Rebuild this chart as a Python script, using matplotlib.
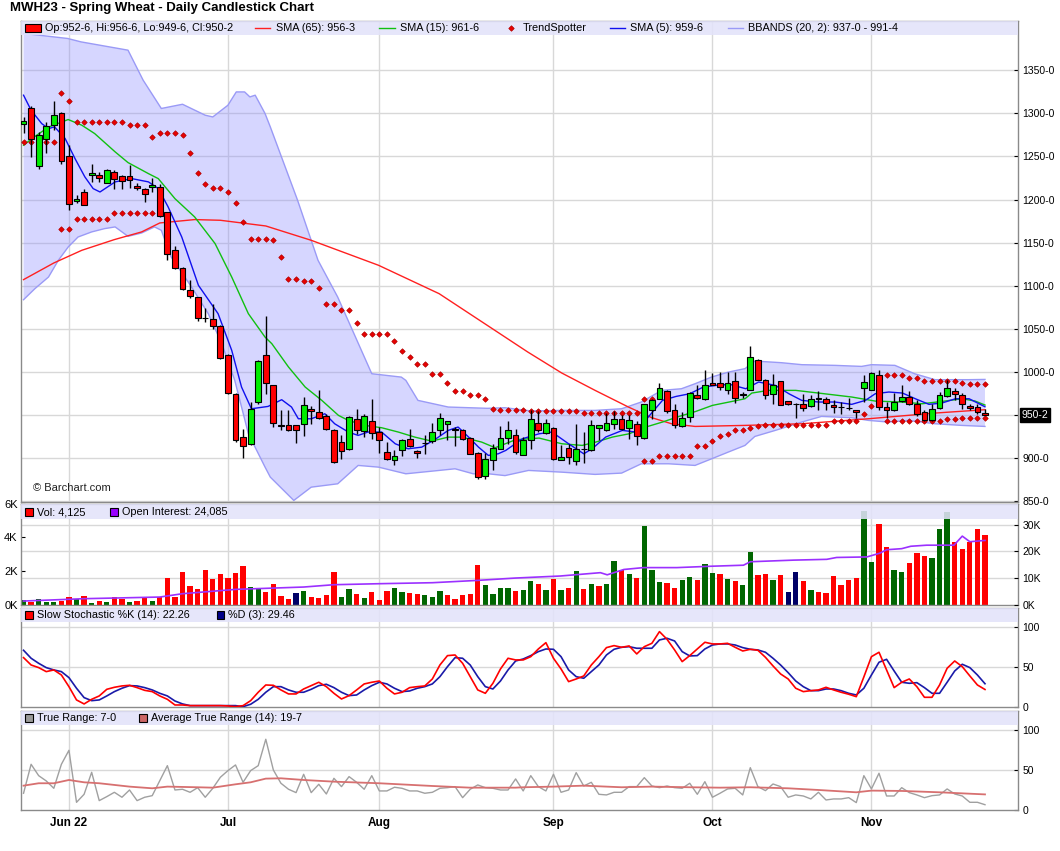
import numpy as np
import pandas as pd
import matplotlib
matplotlib.use("Agg")
import matplotlib.pyplot as plt
from matplotlib.patches import Rectangle
from matplotlib.lines import Line2D
from matplotlib.transforms import blended_transform_factory

plt.rcParams["font.family"] = ["Liberation Sans", "DejaVu Sans"]

W, H = 1060, 851

# trading calendar May 23 - Nov 22 2022
holidays = pd.to_datetime(["2022-05-30", "2022-06-20", "2022-07-04", "2022-09-05"])
days = pd.bdate_range("2022-05-23", "2022-11-22")
days = days[~days.isin(holidays)]

opens = [1288.1, 1306.7, 1239.4, 1270.7, 1287.0, 1300.9, 1251.0, 1198.0, 1209.2, 1228.2,
         1228.6, 1219.7, 1232.0, 1227.8, 1227.8, 1216.2, 1212.7, 1214.3, 1214.7, 1185.7,
         1142.0, 1121.0, 1095.6, 1087.0, 1063.2, 1061.9, 1053.8, 1020.1, 975.0, 925.0,
         916.1, 964.8, 1020.2, 985.4, 938.6, 938.6, 938.6, 939.4, 957.5, 953.6,
         949.0, 933.2, 918.9, 911.1, 945.9, 931.2, 943.2, 930.5, 907.3, 898.4,
         910.0, 922.7, 908.4, 917.5, 919.6, 933.2, 940.1, 933.3, 933.2, 923.9,
         906.5, 879.0, 897.6, 911.1, 923.9, 927.4, 904.2, 921.6, 941.3, 929.7,
         935.5, 898.4, 912.3, 896.8, 910.5, 909.2, 935.5, 933.2, 940.1, 945.9,
         935.5, 940.1, 923.5, 955.6, 969.1, 978.0, 956.4, 937.4, 947.9, 973.8,
         969.1, 987.7, 986.9, 979.6, 989.6, 973.0, 979.6, 1014.4, 990.4, 974.9,
         989.6, 966.0, 962.8, 963.3, 960.2, 968.9, 968.4, 962.2, 959.6, 958.4,
         955.6, 981.9, 979.6, 997.0, 959.5, 955.6, 966.0, 971.1, 963.3, 954.0,
         944.8, 958.7, 971.8, 977.6, 973.8, 961.0, 959.5, 952.75]
highs = [1295.5, 1309.0, 1278.5, 1290.0, 1314.0, 1301.5, 1263.0, 1205.8, 1212.7, 1241.7,
         1232.4, 1236.0, 1234.0, 1229.0, 1239.8, 1219.7, 1213.9, 1225.5, 1217.8, 1186.0,
         1145.8, 1121.5, 1107.2, 1087.5, 1074.7, 1078.5, 1054.2, 1021.3, 975.4, 934.3,
         964.8, 1014.0, 1065.0, 985.6, 955.6, 956.4, 939.0, 971.1, 960.2, 978.8,
         951.7, 933.5, 926.6, 948.6, 957.5, 951.7, 968.3, 936.3, 918.9, 909.2,
         922.7, 934.3, 910.0, 927.4, 941.3, 952.9, 943.5, 936.3, 934.3, 924.6,
         906.8, 906.1, 916.9, 937.0, 943.2, 934.3, 924.7, 955.6, 954.8, 945.9,
         936.3, 915.0, 916.9, 940.1, 930.5, 944.8, 938.5, 952.5, 954.8, 949.8,
         949.8, 943.2, 963.0, 969.1, 987.3, 979.6, 963.3, 953.7, 976.9, 984.6,
         1002.8, 998.9, 1000.0, 1000.0, 1000.0, 977.0, 1029.8, 1014.8, 992.3, 997.4,
         990.0, 966.5, 964.1, 974.2, 973.0, 978.0, 971.1, 967.2, 965.3, 970.3,
         955.8, 996.2, 1000.0, 1002.8, 965.3, 975.7, 984.6, 978.0, 967.2, 955.6,
         962.6, 976.9, 990.4, 981.9, 975.7, 963.3, 962.6, 956.75]
lows = [1276.9, 1249.5, 1236.0, 1254.0, 1280.4, 1241.7, 1188.4, 1196.0, 1193.8, 1220.5,
        1220.5, 1219.5, 1212.7, 1212.7, 1213.5, 1210.8, 1197.3, 1208.8, 1179.9, 1129.6,
        1120.0, 1095.6, 1086.3, 1059.2, 1058.0, 1050.3, 1015.5, 974.9, 918.8, 900.3,
        915.8, 963.0, 974.1, 936.3, 932.4, 931.6, 917.7, 925.4, 940.1, 945.9,
        932.4, 894.9, 899.5, 910.0, 928.5, 924.6, 922.7, 906.1, 897.6, 891.8,
        902.6, 913.0, 900.7, 904.6, 918.1, 926.6, 920.8, 914.2, 920.8, 904.6,
        875.5, 876.3, 886.8, 910.5, 916.9, 904.6, 903.4, 911.1, 930.0, 928.5,
        897.6, 898.0, 893.0, 891.8, 894.5, 908.4, 920.8, 932.0, 934.3, 932.4,
        922.7, 915.0, 922.7, 945.9, 968.8, 952.5, 935.5, 936.0, 942.1, 969.0,
        968.0, 984.6, 978.8, 974.2, 964.1, 970.0, 978.8, 990.4, 969.1, 962.6,
        961.4, 962.0, 947.1, 954.8, 959.4, 955.6, 955.6, 952.5, 951.7, 955.6,
        947.1, 965.3, 978.8, 955.6, 947.1, 954.8, 965.3, 961.4, 948.6, 943.2,
        943.2, 957.5, 971.0, 967.2, 957.5, 955.6, 951.7, 949.75]
closes = [1291.2, 1270.7, 1275.4, 1285.8, 1298.6, 1244.4, 1195.3, 1200.3, 1194.2, 1230.9,
          1225.5, 1234.8, 1223.6, 1222.0, 1223.2, 1213.9, 1206.9, 1217.4, 1181.0, 1136.5,
          1121.0, 1096.7, 1087.8, 1063.0, 1062.5, 1053.4, 1016.7, 975.7, 920.8, 914.6,
          957.1, 1012.8, 987.7, 941.3, 937.8, 933.2, 933.2, 961.8, 954.4, 947.1,
          934.3, 896.0, 908.0, 947.9, 932.4, 949.0, 929.7, 921.6, 899.5, 903.0,
          920.8, 913.8, 906.5, 917.9, 930.5, 947.1, 943.2, 933.0, 922.7, 905.3,
          878.2, 899.5, 912.3, 923.9, 932.4, 907.3, 921.6, 945.9, 933.2, 941.3,
          899.5, 901.8, 901.5, 911.1, 911.0, 939.0, 938.2, 941.3, 945.9, 934.3,
          944.8, 926.2, 962.6, 968.0, 981.9, 954.4, 938.2, 947.1, 976.1, 970.3,
          984.6, 985.4, 982.7, 987.7, 970.3, 974.9, 1017.5, 991.2, 973.8, 985.4,
          962.2, 962.6, 962.5, 958.7, 968.7, 969.1, 964.5, 959.8, 959.2, 958.0,
          953.3, 988.5, 999.3, 959.5, 955.6, 965.6, 971.1, 963.3, 951.0, 944.0,
          957.1, 973.8, 981.5, 974.2, 962.6, 958.7, 953.3, 950.25]

# moving averages / bands (bar index, value)
sma65_x = [0, 4, 7.7, 12, 15.6, 18, 22.6, 26, 32, 38, 46.9, 54.9, 61.6, 66.6, 71.1, 75.5,
           79.9, 83, 85.6, 88.7, 95.3, 102.8, 111.6, 120.4, 127]
sma65_y = [1107.2, 1126.5, 1141.2, 1153.6, 1162.5, 1172.9, 1176.8, 1176.0, 1169.4, 1152.8,
           1123.8, 1090.9, 1052.2, 1023.3, 998.9, 978.8, 959.5, 947.1, 940.1, 937.0,
           938.2, 940.1, 945.9, 952.5, 956.4]
sma15_x = [0, 1.1, 3.3, 5.9, 7.7, 9.4, 12.1, 13.8, 16.5, 17.8, 20, 22.6, 25.3, 27.5, 29.7,
           31.9, 32.8, 35, 37.2, 39.4, 41.6, 42.9, 45.1, 47.3, 49.5, 51.7, 53.9, 56.1, 57.9,
           60.5, 62.3, 65, 68.1, 71.1, 73.8, 75.6, 77.8, 80, 82.2, 84.4, 86.6, 88.8, 91,
           93.2, 95.3, 96.2, 98.4, 102, 105, 109.4, 112.5, 116, 118.7, 121.3, 124, 125.7, 127]
sma15_y = [1263.0, 1270.7, 1284.0, 1292.8, 1286.2, 1276.5, 1255.3, 1242.9, 1230.1, 1224.3,
           1201.1, 1179.9, 1149.0, 1110.2, 1067.7, 1040.6, 1032.9, 1005.9, 982.7, 967.2,
           949.8, 944.0, 938.2, 935.5, 930.5, 924.6, 920.0, 924.6, 924.6, 918.9, 912.3,
           921.6, 923.5, 916.9, 915.0, 918.9, 924.7, 928.5, 936.3, 942.1, 948.6, 954.4,
           961.4, 965.3, 969.1, 975.7, 978.8, 978.8, 975.7, 971.1, 966.4, 965.3, 963.3,
           966.0, 969.1, 966.4, 961.8]
sma5_x = [0, 1, 2.4, 3.3, 4.1, 5.5, 6.8, 8.1, 9.2, 10.1, 12.1, 14.3, 16.5, 17.8, 19.1, 20.9,
          23.1, 25.7, 27.5, 28.8, 30.1, 32.3, 34.1, 35.4, 36.3, 38, 39.8, 41.1, 42.9, 44.2,
          45.5, 47.3, 49.1, 50.8, 52.6, 54.3, 56.1, 57.4, 58.8, 60.1, 61.4, 62.7, 63.7, 65.9,
          68.1, 69.8, 72, 74, 75.1, 76.9, 79.1, 80.9, 82.7, 84.4, 86.2, 88, 89.8, 91.5, 93.3,
          95.4, 97.1, 99.3, 101.1, 102.8, 105, 107.2, 109.4, 111.2, 112.5, 114.3, 116.1,
          117.8, 119.6, 121.3, 123.1, 124.9, 127]
sma5_y = [1321.0, 1303.6, 1288.1, 1282.3, 1284.3, 1270.7, 1247.5, 1226.3, 1212.7, 1208.8,
          1220.5, 1224.3, 1220.5, 1212.7, 1191.5, 1156.6, 1100.6, 1067.7, 1025.2, 982.6,
          957.5, 960.2, 968.0, 959.5, 945.9, 945.9, 951.7, 940.1, 930.5, 926.6, 930.5,
          930.5, 916.9, 911.1, 913.0, 921.6, 932.4, 936.3, 924.6, 913.0, 903.4, 905.3,
          909.2, 922.7, 928.5, 930.5, 916.9, 905.3, 911.1, 924.7, 932.4, 930.5, 949.8,
          967.2, 971.8, 974.9, 982.7, 984.6, 985.8, 980.7, 988.5, 984.6, 974.9, 967.2,
          965.3, 965.3, 962.6, 967.2, 974.9, 976.9, 975.7, 969.1, 962.6, 964.1, 969.1,
          969.1, 959.8]
bb_up_x = [0, 5.8, 7.6, 13.8, 15.8, 18.2, 21, 24, 25, 27, 28.1, 29.2, 29.9, 30.6, 31.9, 32.6,
           36.2, 38, 38.9, 41.5, 46, 49.9, 50.5, 52.1, 56.1, 61.3, 63.6, 67, 71.1, 75.5, 79,
           81.6, 84.3, 86.9, 88.7, 90.9, 93.1, 95.3, 96.6, 100.1, 102.8, 107.2, 110.7, 112,
           115.1, 117.7, 120.4, 124.8, 127]
bb_up_y = [1392.6, 1386.8, 1382.8, 1373.2, 1338.4, 1305.6, 1310.5, 1297.8, 1295.8, 1309.4,
           1324.8, 1324.8, 1319.0, 1321.0, 1299.8, 1284.2, 1199.2, 1152.8, 1129.6, 1087.0,
           998.1, 994.2, 990.4, 967.2, 959.5, 958.0, 958.7, 955.0, 955.6, 955.6, 957.5,
           965.3, 978.8, 980.7, 986.5, 994.3, 1000.0, 1004.0, 1012.8, 1010.9, 1008.6,
           1007.8, 1006.6, 1008.6, 1007.8, 998.1, 991.2, 991.2, 991.5]
bb_lo_x = [0, 1.5, 3.3, 4.6, 5.9, 7.2, 9, 10.7, 12.1, 13.8, 15.6, 17.3, 18.2, 19.5, 22.2,
           24.4, 26.2, 27.9, 29.7, 31.9, 32.6, 35.7, 38, 41.5, 44.2, 46.9, 50.5, 54.9, 57,
           59.4, 61.4, 63.6, 66.7, 71.1, 75.5, 79, 81.6, 85.2, 88.7, 90.9, 93.1, 95.3, 96.6,
           99.3, 102.8, 105.4, 109.4, 111.6, 114.2, 116.9, 120.4, 123.9, 127]
bb_lo_y = [1083.9, 1096.7, 1110.2, 1129.6, 1145.0, 1156.6, 1162.5, 1166.3, 1168.3, 1157.4,
           1161.3, 1168.3, 1164.4, 1133.4, 1098.6, 1067.7, 1032.9, 990.4, 928.5, 889.9,
           878.2, 851.2, 866.6, 870.5, 891.8, 889.8, 882.1, 886.0, 887.9, 882.1, 882.1,
           880.0, 886.0, 884.0, 881.4, 882.9, 893.7, 893.7, 891.8, 899.5, 907.3, 915.0,
           925.4, 932.4, 942.1, 948.6, 947.1, 944.0, 942.1, 944.0, 940.1, 938.2, 937.0]

# TrendSpotter markers
ts_up_x = [5, 6] + list(range(7, 14)) + [14, 15, 16, 17, 18, 19, 20, 21, 22, 23, 24, 25, 26,
           27, 28, 29, 30, 31, 32, 33, 34, 35, 36, 37, 38, 39, 40, 41, 42, 43, 44, 45, 46,
           47, 48, 49, 50, 51, 52, 53, 54, 55, 56, 57, 58, 59, 60, 61, 62] + \
          list(range(63, 67)) + list(range(67, 74)) + list(range(74, 82)) + [82, 83] + \
          [114, 115, 116, 117, 118, 119, 120, 121, 122, 123, 124, 125, 126, 127]
ts_up_y = [1324.1, 1314.0] + [1290.4] * 7 + [1287.0, 1287.0, 1287.0, 1272.7, 1277.7, 1277.7,
           1277.7, 1274.6, 1254.5, 1231.3, 1218.5, 1213.9, 1213.9, 1209.2, 1196.5, 1174.1,
           1154.7, 1154.7, 1154.7, 1152.8, 1133.4, 1108.4, 1108.4, 1105.2, 1105.2, 1097.9,
           1079.3, 1079.3, 1072.4, 1072.4, 1057.3, 1044.5, 1044.5, 1044.5, 1044.5, 1036.0,
           1024.0, 1017.5, 1009.7, 1009.7, 997.4, 997.4, 987.7, 977.6, 977.6, 973.8, 973.8,
           969.1, 956.7] + [956.4] * 4 + [954.4] * 7 + [952.9] * 8 + [969.1, 969.1] + \
          [997.0, 997.0, 997.0, 993.5, 993.5, 990.0, 990.0, 990.0, 990.0, 990.0, 987.7,
           986.5, 986.5, 986.5]
ts_dn_x = [0, 1, 2, 3, 4, 5, 6, 7, 8, 9, 10, 11, 12, 13, 14, 15, 16, 17,
           82, 83, 84, 85, 86, 87, 88, 89, 90, 91, 92, 93, 94, 95, 96, 97] + \
          list(range(98, 107)) + [107, 108, 109, 110, 111, 112] + list(range(114, 128))
ts_dn_y = [1266.5] * 5 + [1166.3, 1166.3] + [1177.9] * 5 + [1184.9] * 6 + \
          [896.4, 896.4, 903.0, 903.0, 903.0, 903.0, 903.0, 914.6, 914.6, 919.6, 926.2, 928.5,
           932.4, 932.4, 935.5, 937.4] + [939.0] * 9 + [942.8] * 4 + [951.0, 960.2] + \
          [942.8] * 8 + [945.9, 945.9] + [947.1] * 4

# volume (thousands) and colour code g/r/n
volume = [0.26, 0.16, 0.34, 0.16, 0.16, 0.24, 0.46, 0.34, 0.51, 0.10,
          0.22, 0.16, 0.46, 0.36, 0.16, 0.22, 0.46, 0.22, 0.44, 1.58,
          0.46, 1.94, 1.11, 0.93, 2.06, 1.52, 1.82, 1.58, 1.88, 2.30,
          1.03, 0.93, 0.75, 1.23, 0.51, 0.34, 0.69, 0.81, 0.46, 0.40,
          0.57, 1.94, 0.46, 0.93, 0.63, 0.40, 0.75, 0.28, 0.81, 0.99,
          0.75, 0.69, 0.63, 0.57, 0.46, 0.81, 0.57, 0.34, 0.57, 0.63,
          2.36, 1.17, 0.63, 0.99, 0.99, 0.81, 0.85, 1.39, 1.23, 0.87,
          1.52, 0.87, 0.99, 2.00, 0.93, 1.23, 1.11, 1.23, 2.59, 2.06,
          1.82, 1.58, 4.67, 2.06, 1.35, 1.29, 0.99, 1.47, 1.64, 1.47,
          2.42, 1.88, 1.82, 1.52, 1.41, 1.17, 3.13, 1.76, 1.82, 1.47,
          1.76, 0.75, 1.94, 1.41, 0.87, 0.75, 0.69, 1.70, 1.17, 1.47,
          1.58, 5.54, 2.53, 4.79, 3.43, 2.06, 1.94, 2.48, 3.07, 2.89,
          2.77, 4.50, 5.50, 3.72, 3.31, 3.72, 4.50, 4.125]
vol_code = ("grgggrrgrg" "rgrrgrrgrr" "rrrrrrrrrr" "ggrrrrngrr" "rrggrgrrrg"
            "grrgggrrrr" "rggggrggrg" "rgrgrgrggr" "grgggrrggr" "ggrgrggrrg"
            "rnnrgrrrrr" "rggrrggrrr" "ggg" "rrrrr")
oi_x = [0, 8, 18, 21, 28, 37, 41, 47, 54, 60, 65, 70.9, 76.2, 77.1, 79.3, 81.9, 86.3, 90.7,
        95.1, 96, 101.7, 106.1, 107.4, 111.4, 113.1, 114, 116, 117.2, 119.3, 122.9, 124,
        125, 127]
oi_k = [1.37, 2.25, 2.87, 4.12, 5.74, 6.62, 7.49, 7.87, 8.24, 9.11, 9.99, 10.75, 12.0, 11.2,
        13.2, 13.9, 13.9, 14.4, 14.8, 16.1, 16.7, 17.0, 17.7, 17.9, 19.3, 20.6, 21.0, 21.9,
        22.3, 22.3, 25.7, 23.6, 24.085]

stoch_k = [62.1, 52.9, 49.6, 44.6, 46.7, 40.4, 25.8, 9.2, 4.2, 10.0,
           14.2, 22.5, 25.0, 26.7, 27.5, 24.6, 21.2, 19.6, 14.2, 10.0,
           2.9, 2.9, 2.1, 2.1, 2.1, 2.1, 2.1, 1.7, 0.8, 2.1,
           8.3, 18.8, 27.9, 27.5, 21.7, 16.7, 16.7, 22.9, 27.1, 31.3,
           25.8, 17.5, 10.4, 14.6, 21.7, 29.2, 31.3, 32.9, 23.8, 16.7,
           18.8, 24.6, 25.8, 26.7, 35.4, 52.9, 64.6, 65.4, 55.0, 38.3,
           21.7, 17.5, 30.0, 47.9, 61.3, 59.2, 59.2, 63.3, 72.9, 80.8,
           61.3, 47.9, 32.1, 35.4, 39.2, 52.9, 63.3, 74.6, 77.1, 75.0,
           76.7, 66.7, 75.8, 80.0, 94.6, 85.0, 71.7, 57.1, 64.6, 72.9,
           81.3, 79.2, 79.2, 80.0, 75.0, 70.4, 72.5, 71.3, 62.5, 51.7,
           41.7, 35.4, 23.8, 19.6, 20.8, 21.7, 25.0, 21.7, 18.8, 16.3,
           13.3, 38.0, 63.3, 68.8, 46.7, 24.6, 31.3, 35.4, 25.8, 12.5,
           12.5, 27.9, 48.8, 57.9, 50.8, 39.2, 27.9, 22.26]
stoch_d = [71.3, 61.3, 55.0, 49.6, 46.7, 44.6, 37.1, 23.8, 12.1, 8.3,
           9.2, 14.2, 19.6, 23.8, 27.1, 26.7, 24.6, 21.7, 17.5, 14.2,
           7.9, 4.2, 2.1, 2.1, 2.1, 2.1, 2.1, 2.1, 2.1, 0.8,
           3.8, 10.0, 18.8, 25.8, 25.8, 21.7, 18.8, 18.8, 22.5, 27.1,
           28.8, 24.6, 18.8, 14.6, 15.4, 21.7, 27.1, 31.3, 29.2, 23.8,
           19.6, 20.4, 23.8, 25.8, 29.2, 38.3, 50.8, 62.1, 61.3, 52.9,
           38.3, 25.8, 22.9, 32.9, 46.7, 57.9, 60.4, 64.6, 69.6, 72.9,
           72.5, 63.3, 46.7, 38.3, 36.3, 44.6, 52.9, 65.4, 72.5, 75.0,
           75.8, 73.8, 73.8, 73.8, 84.2, 86.3, 82.9, 69.6, 64.2, 64.6,
           72.9, 77.9, 79.2, 79.2, 77.9, 74.6, 72.5, 71.7, 68.8, 61.3,
           52.9, 43.3, 32.9, 25.8, 20.8, 20.8, 22.9, 22.9, 20.8, 17.5,
           15.4, 23.8, 40.4, 56.3, 60.0, 45.4, 31.3, 30.0, 30.8, 24.6,
           17.5, 17.5, 31.3, 45.4, 53.8, 49.6, 40.4, 29.46]

true_range = [21.3, 57.5, 43.3, 36.7, 27.5, 57.5, 75.0, 10.0, 20.0, 47.5,
              12.1, 17.1, 22.5, 16.3, 25.4, 12.1, 16.3, 18.3, 37.1, 55.8,
              25.4, 26.3, 22.5, 28.3, 16.3, 27.5, 41.3, 49.6, 56.7, 35.0,
              49.6, 55.8, 88.8, 50.4, 33.8, 26.3, 22.1, 45.0, 22.1, 32.5,
              20.4, 40.0, 29.6, 42.1, 35.0, 26.3, 43.3, 24.2, 24.2, 28.8,
              27.5, 24.2, 24.2, 21.3, 22.5, 27.5, 28.3, 29.6, 15.8, 26.3,
              31.7, 28.3, 27.5, 25.4, 25.4, 39.2, 24.2, 43.3, 29.6, 24.2,
              45.0, 22.5, 25.4, 47.1, 30.4, 35.0, 20.0, 19.2, 22.5, 22.5,
              29.6, 29.6, 40.8, 30.4, 28.3, 30.4, 28.3, 27.5, 33.8, 20.0,
              35.8, 16.3, 21.3, 26.7, 27.5, 19.2, 53.3, 29.6, 24.6, 32.9,
              29.6, 16.3, 19.2, 17.9, 14.2, 22.5, 12.9, 14.2, 14.2, 15.8,
              9.6, 43.3, 26.7, 46.3, 17.9, 17.9, 28.3, 22.1, 19.2, 15.8,
              18.3, 19.2, 26.7, 20.4, 17.9, 10.0, 10.0, 7.0]
atr_x = [0, 2, 4, 6, 8, 10, 14, 17, 19, 23, 25, 28, 30, 32, 34, 37, 41, 47, 54, 59, 65, 66,
         70, 74, 79, 83, 88, 92, 96, 101, 105, 110, 112, 116, 121, 127]
atr_y = [30.8, 33.8, 33.8, 37.9, 35.0, 33.8, 29.6, 27.5, 29.6, 28.8, 28.3, 32.5, 35.0, 39.6,
         40.0, 37.9, 35.8, 33.8, 30.4, 28.3, 28.3, 28.8, 29.6, 30.8, 28.8, 29.6, 28.8, 28.3,
         28.8, 27.5, 25.4, 22.5, 24.6, 24.2, 22.5, 19.875]

# ---------------------------------------------------------------------------
GRID = "#d8d8d8"
SPINE = "#8a8a8a"
STRIP = "#e3e3fa"
CANDLE_UP, CANDLE_DN = "#00ee00", "#ff0000"
DIAMOND = dict(ls="none", marker="D", ms=2.8, mfc="#e80000", mec="#b00000", mew=0.5)


def fx(x):
    return x / W


def fy(y):
    return 1 - y / H


def panel(top, bottom):
    return [fx(20.5), fy(bottom), fx(1018.3) - fx(20.5), (bottom - top) / H]


fig = plt.figure(figsize=(W / 100, H / 100), dpi=100)
ax_p = fig.add_axes(panel(20.5, 502))
ax_v = fig.add_axes(panel(503.5, 604.7))
ax_s = fig.add_axes(panel(607.7, 707.3))
ax_a = fig.add_axes(panel(710.7, 810.3))
axes = [ax_p, ax_v, ax_s, ax_a]

xs = np.arange(len(closes))
month_idx = [i for i in range(1, len(days)) if days[i].month != days[i - 1].month]
month_lab = [days[i].strftime("%b") for i in month_idx]
month_lab[0] = month_lab[0] + " 22"

for ax in axes:
    ax.set_xlim(-0.4, 131.4)
    for s in ax.spines.values():
        s.set_color(SPINE)
        s.set_linewidth(1)
    for m in month_idx:
        ax.axvline(m, color=GRID, lw=1, zorder=0.5)
    ax.set_xticks([])
    ax.yaxis.tick_right()
    ax.tick_params(axis="y", direction="in", length=3, labelsize=7.5, colors="black",
                   pad=3)

# ---- price panel
ax_p.set_ylim(849.4, 1407.6)
pticks = np.arange(850, 1351, 50)
ax_p.set_yticks(pticks)
ax_p.set_yticklabels([f"{t}-0" for t in pticks])
for t in pticks:
    ax_p.axhline(t, color=GRID, lw=1, zorder=0.5)

band_x = np.concatenate([bb_up_x, bb_lo_x[::-1]])
band_y = np.concatenate([bb_up_y, bb_lo_y[::-1]])
ax_p.fill(band_x, band_y, color=(0.55, 0.55, 1.0), alpha=0.35, lw=0, zorder=1)
ax_p.plot(bb_up_x, bb_up_y, color="#9a9af6", lw=1, zorder=1.5)
ax_p.plot(bb_lo_x, bb_lo_y, color="#9a9af6", lw=1, zorder=1.5)

ax_p.plot(sma65_x, sma65_y, color="#ff2020", lw=1, zorder=3)
ax_p.plot(sma15_x, sma15_y, color="#10c010", lw=1, zorder=3)
ax_p.plot(sma5_x, sma5_y, color="#1010ee", lw=1, zorder=3)

ax_p.plot(ts_up_x, ts_up_y, zorder=3.5, **DIAMOND)
ax_p.plot(ts_dn_x, ts_dn_y, zorder=3.5, **DIAMOND)

o = np.array(opens)
c = np.array(closes)
ax_p.vlines(xs, lows, highs, colors="black", lw=1, zorder=4)
body_h = np.maximum(np.abs(c - o), 0.5)
body_b = np.minimum(o, c)
body_c = [CANDLE_UP if cc > oo else CANDLE_DN for oo, cc in zip(o, c)]
ax_p.bar(xs, body_h, bottom=body_b, width=0.76, color=body_c, edgecolor="black",
         linewidth=0.8, zorder=4.5)

last = closes[-1]
ax_p.text(1.003, last, "950-2", transform=blended_transform_factory(ax_p.transAxes,
          ax_p.transData), fontsize=7.5, color="white", va="center", ha="left",
          clip_on=False, zorder=10,
          bbox=dict(boxstyle="square,pad=0.15", fc="black", ec="black"))

# ---- volume panel
VOL_TOP = 6.01
OI_PER_VOL = 6.31
ax_v.set_ylim(0, VOL_TOP)
vcol = {"g": "#006600", "r": "#ff0000", "n": "#000066"}
ax_v.bar(xs, volume, width=0.7, color=[vcol[k] for k in vol_code], zorder=2)
ax_v.yaxis.tick_left()
ax_v.set_yticks([0, 2, 4, 6])
ax_v.set_yticklabels(["0K", "2K", "4K", "6K"])
ax_v.tick_params(axis="y", labelsize=8, pad=2)
ax_oi = ax_v.twinx()
ax_oi.set_ylim(0, VOL_TOP * OI_PER_VOL)
ax_oi.set_xlim(-0.4, 131.4)
ax_oi.plot(oi_x, oi_k, color="#9b30ff", lw=1.2, zorder=3)
ax_oi.set_yticks([0, 10, 20, 30])
ax_oi.set_yticklabels(["0K", "10K", "20K", "30K"])
ax_oi.tick_params(axis="y", direction="in", length=3, labelsize=7.5, pad=3)
for s in ax_oi.spines.values():
    s.set_visible(False)
for t in [10, 20, 30]:
    ax_v.axhline(t / OI_PER_VOL, color=GRID, lw=1, zorder=0.5)

# ---- stochastic panel
ax_s.set_ylim(0, 124.5)
ax_s.set_yticks([0, 50, 100])
ax_s.set_yticklabels(["0", "50", "100"])
for t in [50, 100]:
    ax_s.axhline(t, color=GRID, lw=1, zorder=0.5)
ax_s.plot(xs, stoch_d, color="#1a1aa8", lw=1.2, zorder=3)
ax_s.plot(xs, stoch_k, color="#ff0000", lw=1.2, zorder=3.2)

# ---- ATR panel
ax_a.set_ylim(0, 124.5)
ax_a.set_yticks([0, 50, 100])
ax_a.set_yticklabels(["0", "50", "100"])
for t in [50, 100]:
    ax_a.axhline(t, color=GRID, lw=1, zorder=0.5)
ax_a.plot(xs, true_range, color="#a0a0a0", lw=1, zorder=3)
ax_a.plot(atr_x, atr_y, color="#d77070", lw=1.3, zorder=3.2)
ax_a.set_xticks(month_idx)
ax_a.set_xticklabels(month_lab, fontsize=8.5, fontweight="bold")
ax_a.tick_params(axis="x", length=0, pad=5)

# ---- legend strips
for ax, h in [(ax_p, 14.5 / 481.5), (ax_v, 15.2 / 101.2), (ax_s, 14.0 / 99.6),
              (ax_a, 14.3 / 99.6)]:
    ax.add_patch(Rectangle((0, 1 - h), 1, h, transform=ax.transAxes, fc=STRIP, ec="none",
                           alpha=0.88, zorder=6))


def box(x, y, color):
    fig.add_artist(Rectangle((fx(x), fy(y + 4)), 7.5 / W, 8 / H, fc=color, ec="black",
                             lw=0.8))


def seg(x0, x1, y, color):
    fig.add_artist(Line2D([fx(x0), fx(x1)], [fy(y), fy(y)], color=color, lw=1))


def label(x, y, s, **kw):
    fig.text(fx(x), fy(y), s, fontsize=7.8, va="center", ha="left", **kw)


py = 28.3
fig.add_artist(Rectangle((fx(25.4), fy(32.3)), 15.2 / W, 8.3 / H, fc="#ff0000", ec="black",
                         lw=0.8))
label(45, py, "Op:952-6, Hi:956-6, Lo:949-6, Cl:950-2")
seg(255, 270, py, "#ff2020")
label(276, py, "SMA (65): 956-3")
seg(379, 395, py, "#10c010")
label(400, py, "SMA (15): 961-6")
fig.add_artist(Line2D([fx(511)], [fy(py)], **DIAMOND))
label(523, py, "TrendSpotter")
seg(610, 625, py, "#1010ee")
label(630, py, "SMA (5): 959-6")
seg(728, 743, py, "#9a9af6")
label(748, py, "BBANDS (20, 2): 937-0 - 991-4")

vy = 512.3
box(25, vy, "#ff0000")
label(37, vy, "Vol: 4,125")
box(110, vy, "#9900ff")
label(122, vy, "Open Interest: 24,085")

sy = 615.0
box(25, sy, "#ff0000")
label(37, sy, "Slow Stochastic %K (14): 22.26")
box(216.7, sy, "#000088")
label(228, sy, "%D (3): 29.46")

ay = 718.3
box(25, ay, "#999999")
label(37, ay, "True Range: 7-0")
box(139.3, ay, "#cc6666")
label(151, ay, "Average True Range (14): 19-7")

fig.text(fx(10), fy(8.5), "MWH23 - Spring Wheat - Daily Candlestick Chart", fontsize=9.5,
         fontweight="bold", va="center", ha="left")
fig.text(fx(33), fy(488), "\u00a9 Barchart.com", fontsize=8, va="center", ha="left",
         color="#222222")

fig.savefig("out.png", dpi=100)
